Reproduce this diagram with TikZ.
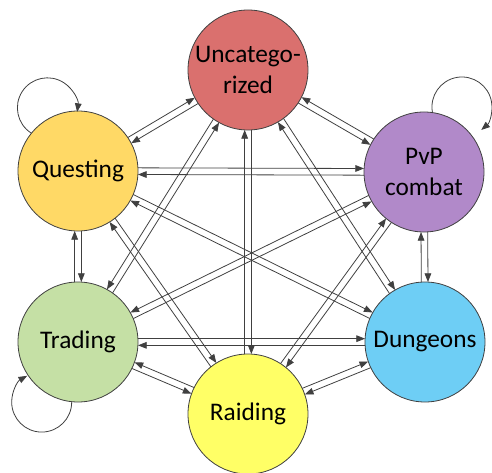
\documentclass[tikz,border=0pt]{standalone}
\usepackage{fontspec}
\setmainfont{Carlito}
\usetikzlibrary{calc,arrows.meta}
\definecolor{edgegray}{RGB}{64,64,64}
\definecolor{uncatred}{RGB}{218,112,110}
\definecolor{questyellow}{RGB}{255,217,102}
\definecolor{pvppurple}{RGB}{177,137,201}
\definecolor{tradegreen}{RGB}{197,224,165}
\definecolor{raidyellow}{RGB}{255,255,102}
\definecolor{dungblue}{RGB}{110,206,245}
\begin{document}
\begin{tikzpicture}[x=0.75pt,y=0.75pt]
        \tikzset{state/.style={circle,draw=edgegray,line width=0.6pt,minimum size=90pt,inner sep=0pt,align=center,font=\fontsize{19}{23}\selectfont},
          link/.style={draw=edgegray,line width=0.6pt,-{Triangle[length=6.5pt,width=5pt]}}};
        \useasboundingbox (0,0) rectangle (492,472);
        \node[state,fill=uncatred] (uncat) at (248,402) {Uncatego-\\rized};
        \node[state,fill=questyellow] (quest) at (78,301) {Questing};
        \node[state,fill=pvppurple] (pvp) at (424,300) {PvP\\combat};
        \node[state,fill=tradegreen] (trade) at (78,130) {Trading};
        \node[state,fill=dungblue] (dung) at (425,130) {Dungeons};
        \node[state,fill=raidyellow] (raid) at (248,58) {Raiding};
        % two arrows per pair, \s is the side
        \foreach \a/\b/\s in {quest/uncat/2.5pt, quest/pvp/2.5pt, quest/trade/2.5pt, pvp/dung/2.5pt, trade/dung/2.5pt,
            raid/dung/2.5pt, uncat/raid/2.5pt, quest/dung/2.5pt, quest/raid/2.5pt, uncat/dung/2.5pt, raid/pvp/2.5pt,
            uncat/pvp/-2.5pt, uncat/trade/-2.5pt, pvp/trade/-2.5pt, trade/raid/-2.5pt}{
          \draw[link] ($(\a)!45pt!(\b)!\s!90:(\b)$) -- ($(\b)!45pt!(\a)!\s!-90:(\a)$);
          \draw[link] ($(\b)!45pt!(\a)!\s!90:(\a)$) -- ($(\a)!45pt!(\b)!\s!-90:(\b)$);
        }
        % self loops
        \draw[link] (quest.141) arc[start angle=237,end angle=-8,radius=22.5pt];
        \draw[link] (pvp.82) arc[start angle=190,end angle=-50,radius=22.5pt];
        \draw[link] (trade.264) arc[start angle=0,end angle=-241,radius=22.5pt];
    \end{tikzpicture}
\end{document}
